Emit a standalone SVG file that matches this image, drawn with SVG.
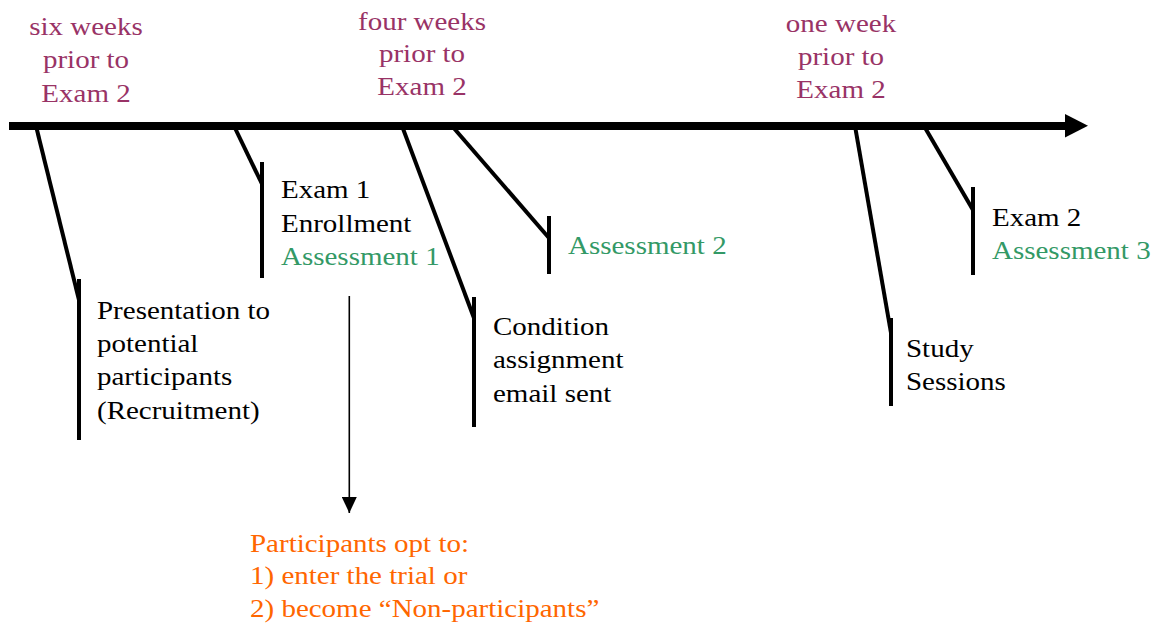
<svg xmlns="http://www.w3.org/2000/svg" width="1163" height="625" viewBox="0 0 1163 625">
  <style>
    text { font-family: "Liberation Serif", "Times New Roman", serif; font-size: 25px; }
    .when { fill: #993366; text-anchor: middle; }
    .ev { fill: #000000; }
    .assess { fill: #339966; }
    .opt { fill: #FF6600; }
    .tick { stroke: #000; stroke-width: 4; fill: none; stroke-linecap: butt; }
    .axis { stroke: #000; stroke-width: 8; fill: none; }
    .thin { stroke: #000; stroke-width: 1.6; fill: none; }
  </style>
  <defs>
    <marker id="thinHead" viewBox="0 0 16 15" refX="16" refY="7.5" markerWidth="16" markerHeight="15" markerUnits="userSpaceOnUse" orient="auto">
      <path d="M0,0 L16,7.5 L0,15 Z" fill="#000"/>
    </marker>
  </defs>

  <!-- timeline axis -->
  <g id="timeline">
    <line class="axis" x1="9" y1="126" x2="1066" y2="126"/>
    <path d="M1065,114 L1088,125.7 L1065,137.4 Z" fill="#000"/>
  </g>

  <!-- time labels above the axis -->
  <g id="label-six-weeks">
    <text class="when" transform="translate(86,35) scale(1.16,1)"><tspan x="0">six weeks</tspan><tspan x="0" dy="33.3">prior to</tspan><tspan x="0" dy="33.3">Exam 2</tspan></text>
  </g>
  <g id="label-four-weeks">
    <text class="when" transform="translate(422,29.5) scale(1.16,1)"><tspan x="0">four weeks</tspan><tspan x="0" dy="32.6">prior to</tspan><tspan x="0" dy="32.6">Exam 2</tspan></text>
  </g>
  <g id="label-one-week">
    <text class="when" transform="translate(841,31.7) scale(1.16,1)"><tspan x="0">one week</tspan><tspan x="0" dy="33.3">prior to</tspan><tspan x="0" dy="33.3">Exam 2</tspan></text>
  </g>

  <!-- leader lines from the axis to each event -->
  <g id="connectors">
    <line class="tick" x1="36" y1="126" x2="79" y2="300"/>
    <line class="tick" x1="234" y1="126" x2="262" y2="184"/>
    <line class="tick" x1="402" y1="126" x2="474" y2="318"/>
    <line class="tick" x1="452" y1="126" x2="549" y2="238"/>
    <line class="tick" x1="855" y1="126" x2="891" y2="333"/>
    <line class="tick" x1="924" y1="126" x2="973" y2="210"/>
    <line class="thin" x1="349.3" y1="296" x2="349.3" y2="513" marker-end="url(#thinHead)"/>
  </g>

  <!-- events -->
  <g id="event-recruitment">
    <line class="tick" x1="79" y1="279" x2="79" y2="440"/>
    <text class="ev" transform="translate(97,319) scale(1.16,1)"><tspan x="0">Presentation to</tspan><tspan x="0" dy="33.2">potential</tspan><tspan x="0" dy="33.2">participants</tspan><tspan x="0" dy="33.2">(Recruitment)</tspan></text>
  </g>
  <g id="event-enrollment">
    <line class="tick" x1="262" y1="162" x2="262" y2="278"/>
    <text class="ev" transform="translate(281,198) scale(1.16,1)"><tspan x="0">Exam 1</tspan><tspan x="0" dy="34">Enrollment</tspan><tspan class="assess" x="0" dy="33.5">Assessment 1</tspan></text>
  </g>
  <g id="event-condition">
    <line class="tick" x1="474" y1="297" x2="474" y2="427"/>
    <text class="ev" transform="translate(493,335) scale(1.16,1)"><tspan x="0">Condition</tspan><tspan x="0" dy="33.5">assignment</tspan><tspan x="0" dy="33.5">email sent</tspan></text>
  </g>
  <g id="event-assessment2">
    <line class="tick" x1="549" y1="216" x2="549" y2="274"/>
    <text class="assess" transform="translate(568,254) scale(1.16,1)">Assessment 2</text>
  </g>
  <g id="event-study">
    <line class="tick" x1="891" y1="318" x2="891" y2="406"/>
    <text class="ev" transform="translate(906,357) scale(1.16,1)"><tspan x="0">Study</tspan><tspan x="0" dy="33.3">Sessions</tspan></text>
  </g>
  <g id="event-exam2">
    <line class="tick" x1="973" y1="187" x2="973" y2="275"/>
    <text class="ev" transform="translate(992,226) scale(1.16,1)"><tspan x="0">Exam 2</tspan><tspan class="assess" x="0" dy="33">Assessment 3</tspan></text>
  </g>
  <g id="note-options">
    <text class="opt" transform="translate(250,551.5) scale(1.16,1)"><tspan x="0">Participants opt to:</tspan><tspan x="0" dy="33">1) enter the trial or</tspan><tspan x="0" dy="33">2) become “Non-participants”</tspan></text>
  </g>
</svg>
